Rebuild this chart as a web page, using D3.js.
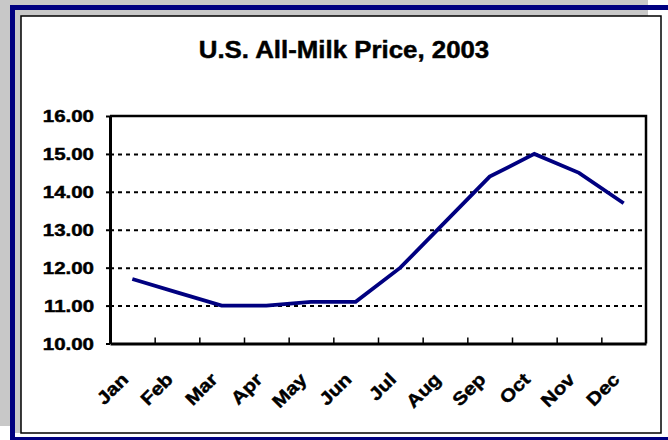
<!doctype html>
<html>
<head>
    <title>U.S. All-Milk Price, 2003</title>
    <script src='https://d3js.org/d3.v7.min.js'></script>
    <style>
        body { margin: 0; background: #fff; }
        svg { display: block; }
        text { font-family: "Liberation Sans", Arial, sans-serif; font-weight: bold; fill: #000; stroke: #000; stroke-width: 0.45px; }
    </style>
</head>
<body>
<svg></svg>
</body>
<script>

    // data
    var months = ["Jan", "Feb", "Mar", "Apr", "May", "Jun", "Jul", "Aug", "Sep", "Oct", "Nov", "Dec"];
    var prices = [11.70, 11.35, 11.00, 11.00, 11.10, 11.10, 12.00, 13.20, 14.40, 15.00, 14.50, 13.70];
    var yTicks = [10, 11, 12, 13, 14, 15, 16];
    var yTickLabels = ["10.00", "11.00", "12.00", "13.00", "14.00", "15.00", "16.00"];
    var title = "U.S. All-Milk Price, 2003";

    var svgWidth = 668, svgHeight = 440;
    var plotLeft = 110, plotRight = 646, plotTop = 116, plotBottom = 343.5;
    var stretch = 1.28;   // fonts in the original are drawn wide

    var svg = d3.select('svg')
        .attr("width", svgWidth)
        .attr("height", svgHeight);

    // frame: grey backdrop, navy border, white panel
    svg.append('rect').attr('x', 0).attr('y', 0).attr('width', 648).attr('height', 426).attr('fill', '#c8c8c8');
    svg.append('rect').attr('x', 12.5).attr('y', 7.5).attr('width', 700).attr('height', 432)
        .attr('fill', '#fff').attr('stroke', '#000080').attr('stroke-width', 5);
    svg.append('rect').attr('x', 15).attr('y', 10).attr('width', 6).attr('height', 423).attr('fill', '#c8c8c8');
    svg.append('rect').attr('x', 15).attr('y', 10).attr('width', 633).attr('height', 6).attr('fill', '#c8c8c8');
    svg.append('rect').attr('x', 21).attr('y', 16).attr('width', 640).attr('height', 417)
        .attr('fill', '#fff').attr('stroke', '#000').attr('stroke-width', 1.5);

    var xScale = d3.scaleBand()
        .domain(months)
        .range([plotLeft, plotRight]);

    var xIndex = d3.scaleLinear()
        .domain([0, months.length])
        .range([plotLeft, plotRight]);

    var yScale = d3.scaleLinear()
        .domain([10, 16])
        .range([plotBottom, plotTop]);

    // dotted gridlines
    var grid = svg.append('g')
        .attr('transform', 'translate(' + plotLeft + ',0)')
        .call(d3.axisLeft(yScale).tickValues(yTicks.slice(1, -1)).tickSize(-(plotRight - plotLeft)).tickFormat(''));
    grid.select('.domain').remove();
    grid.selectAll('line')
        .attr('stroke', '#000')
        .attr('stroke-width', 2)
        .attr('stroke-dasharray', '4,4');

    // plot border top/right
    svg.append('path')
        .attr('d', 'M' + plotLeft + ',' + plotTop + 'H' + plotRight + 'V' + plotBottom)
        .attr('fill', 'none').attr('stroke', '#000').attr('stroke-width', 2.5);

    // y axis
    var yAxis = svg.append('g')
        .attr('transform', 'translate(' + plotLeft + ',0)')
        .call(d3.axisLeft(yScale).tickValues(yTicks).tickSize(4).tickSizeOuter(0)
            .tickFormat(function (d, i) { return yTickLabels[i]; }));
    yAxis.select('.domain').attr('stroke-width', 3);
    yAxis.selectAll('line').attr('stroke-width', 2);
    yAxis.selectAll('text')
        .attr('x', -16 / stretch)
        .attr('dy', '0.36em')
        .attr('transform', 'scale(' + stretch + ',1)')
        .style('font-size', '16px');

    // x axis with inside ticks between categories
    var xAxis = svg.append('g')
        .attr('transform', 'translate(0,' + plotBottom + ')')
        .call(d3.axisBottom(xIndex).tickValues(d3.range(1, months.length)).tickSize(-6).tickSizeOuter(0).tickFormat(''));
    xAxis.select('.domain').attr('stroke-width', 3);
    xAxis.selectAll('line').attr('stroke-width', 1.5);

    svg.append('g').selectAll('text')
        .data(months)
        .enter()
        .append('text')
        .text(function (d) { return d; })
        .attr('text-anchor', 'end')
        .style('font-size', '18px')
        .attr('transform', function (d) {
            var cx = xScale(d) + xScale.bandwidth() / 2 - 3;
            return 'translate(' + cx + ',' + (plotBottom + 37) + ') rotate(-45) scale(1.15,1)';
        });

    // price line
    var line = d3.line()
        .x(function (d, i) { return xScale(months[i]) + xScale.bandwidth() / 2; })
        .y(function (d) { return yScale(d); });

    svg.append('path')
        .datum(prices)
        .attr('d', line)
        .attr('fill', 'none')
        .attr('stroke', '#000080')
        .attr('stroke-width', 3.8);

    // title
    svg.append('text')
        .attr('x', 344 / 1.1)
        .attr('y', 58.5)
        .attr('text-anchor', 'middle')
        .attr('transform', 'scale(1.1,1)')
        .style('font-size', '23.5px')
        .text(title);

</script>
</html>
